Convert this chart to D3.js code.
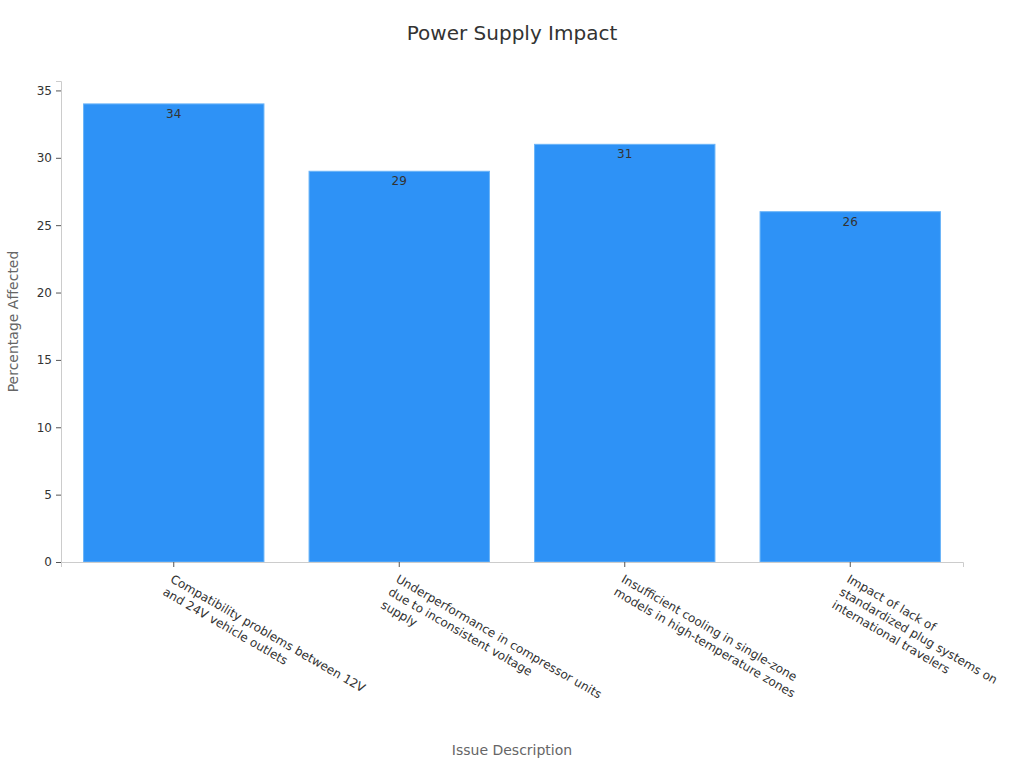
<!DOCTYPE html>
<html>
<head>
<meta charset="utf-8">
<script src="https://cdn.jsdelivr.net/npm/d3@7"></script>
<style>
  body { margin: 0; background: #fff; }
  svg, svg text { font-family: "DejaVu Sans", sans-serif; }
</style>
</head>
<body>
<div id="chart"></div>
<script>
// chart data
var categories = [
  "Compatibility problems between 12V and 24V vehicle outlets",
  "Underperformance in compressor units due to inconsistent voltage supply",
  "Insufficient cooling in single-zone models in high-temperature zones",
  "Impact of lack of standardized plug systems on international travelers"
];
var labelLines = [
  ["Compatibility problems between 12V", "and 24V vehicle outlets"],
  ["Underperformance in compressor units", "due to inconsistent voltage", "supply"],
  ["Insufficient cooling in single-zone", "models in high-temperature zones"],
  ["Impact of lack of", "standardized plug systems on", "international travelers"]
];
var values = [34, 29, 31, 26];
var yTicks = [0, 5, 10, 15, 20, 25, 30, 35];

var W = 1024, H = 768;
var margin = { top: 81, right: 61, bottom: 206, left: 61 };
var width = W - margin.left - margin.right;
var height = H - margin.top - margin.bottom;

var svg = d3.select("#chart").append("svg")
  .attr("width", W)
  .attr("height", H);

var g = svg.append("g")
  .attr("transform", "translate(" + margin.left + "," + margin.top + ")");

var x = d3.scaleBand()
  .domain(categories)
  .range([0, width])
  .paddingInner(0.2)
  .paddingOuter(0.1);

var y = d3.scaleLinear()
  .domain([0, d3.max(values) * 1.05])
  .range([height, 0]);

// y axis
var yAxis = g.append("g")
  .attr("font-family", "DejaVu Sans, sans-serif")
  .call(d3.axisLeft(y).tickValues(yTicks).tickSize(5).tickPadding(4));
yAxis.select(".domain").attr("stroke", "#ccc");
yAxis.selectAll(".tick line").attr("stroke", "#555");
yAxis.selectAll(".tick text")
  .attr("fill", "#333")
  .style("font-size", "12px");

// bars
g.selectAll(".bar")
  .data(values)
  .enter().append("rect")
  .attr("class", "bar")
  .attr("x", function(d, i) { return x(categories[i]); })
  .attr("y", function(d) { return y(d); })
  .attr("width", x.bandwidth())
  .attr("height", function(d) { return height - y(d); })
  .attr("fill", "#2e92f6")
  .attr("stroke", "#6bb4f8")
  .attr("stroke-width", 1);

// value labels
g.selectAll(".val")
  .data(values)
  .enter().append("text")
  .attr("class", "val")
  .attr("x", function(d, i) { return x(categories[i]) + x.bandwidth() / 2; })
  .attr("y", function(d) { return y(d) + 14; })
  .attr("text-anchor", "middle")
  .attr("fill", "#333")
  .style("font-size", "12px")
  .text(function(d) { return d; });

// x axis
var xAxis = g.append("g")
  .attr("transform", "translate(0," + height + ")")
  .attr("font-family", "DejaVu Sans, sans-serif")
  .call(d3.axisBottom(x).tickSize(5).tickFormat(""));
xAxis.select(".domain").attr("stroke", "#ccc");
xAxis.selectAll(".tick line").attr("stroke", "#555");

xAxis.selectAll(".tick").each(function(d, i) {
  var t = d3.select(this).append("text")
    .attr("transform", "translate(0,12) rotate(30)")
    .attr("text-anchor", "start")
    .attr("fill", "#333")
    .style("font-size", "12px");
  labelLines[i].forEach(function(line, j) {
    t.append("tspan")
      .attr("x", 0)
      .attr("dy", j === 0 ? "0.71em" : "1.25em")
      .text(line);
  });
});

// titles
svg.append("text")
  .attr("x", W / 2)
  .attr("y", 40)
  .attr("text-anchor", "middle")
  .attr("fill", "#333")
  .style("font-size", "20px")
  .text("Power Supply Impact");

svg.append("text")
  .attr("transform", "translate(18," + (margin.top + height / 2) + ") rotate(-90)")
  .attr("text-anchor", "middle")
  .attr("fill", "#666")
  .style("font-size", "14px")
  .text("Percentage Affected");

svg.append("text")
  .attr("x", margin.left + width / 2)
  .attr("y", 755)
  .attr("text-anchor", "middle")
  .attr("fill", "#666")
  .style("font-size", "14px")
  .text("Issue Description");
</script>
</body>
</html>
